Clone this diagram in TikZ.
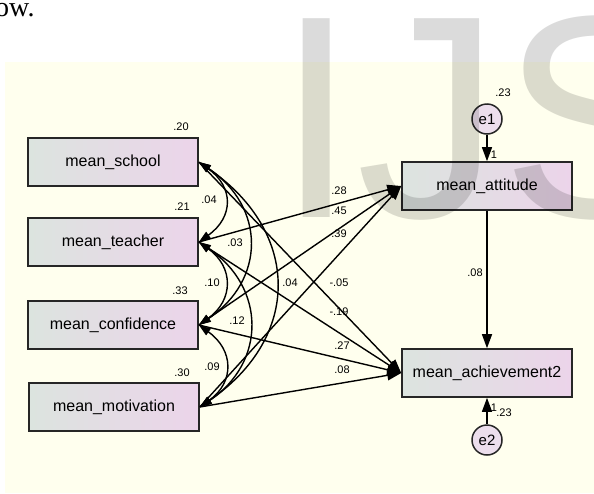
\documentclass[tikz,border=0pt]{standalone}
\usepackage{fontspec}
\setmainfont{Liberation Sans}
\newfontfamily\pageserif{Liberation Serif}
\usetikzlibrary{arrows.meta}

\definecolor{bgyellow}{RGB}{255,255,238}
\definecolor{boxleft}{RGB}{220,228,223}
\definecolor{boxright}{RGB}{236,212,234}
\definecolor{errfill}{RGB}{236,222,236}

\tikzset{
  varbox/.style={draw=black!85, line width=1.6pt, minimum width=170pt, minimum height=48pt,
    inner sep=0pt, left color=boxleft, right color=boxright, font=\fontsize{16}{16}\selectfont},
  errnode/.style={circle, draw=black!85, line width=1.5pt, minimum size=30pt, inner sep=0pt,
    fill=errfill, font=\fontsize{15}{15}\selectfont},
  coef/.style={font=\fontsize{11}{11}\selectfont, inner sep=0pt},
  patharrow/.style={line width=1.4pt, -{Triangle[length=14pt,width=10pt]}},
  covarrow/.style={line width=1.4pt, {Triangle[length=12pt,width=8pt]}-{Triangle[length=12pt,width=8pt]}},
}

\begin{document}
\begin{tikzpicture}[x=1pt,y=-1pt]
\useasboundingbox (0,0) rectangle (594,493);
\begin{scope}
\clip (0,0) rectangle (594,493);

% Page
\node[anchor=base west, inner sep=0pt, font=\pageserif\fontsize{28}{28}\selectfont] at (-5,16.5) {ow.};
\fill[bgyellow] (5,62) rectangle (594,493);

% Observed variables
\node[varbox] (school) at (113,162) {mean\_school};
\node[varbox] (teacher) at (113,242) {mean\_teacher};
\node[varbox] (confidence) at (113,325) {mean\_confidence};
\node[varbox] (motivation) at (114,407) {mean\_motivation};
\node[varbox] (attitude) at (487,186) {mean\_attitude};
\node[varbox] (achieve) at (487,373) {mean\_achievement2};

% Errors
\node[errnode] (e1) at (487,119) {e1};
\node[errnode] (e2) at (487,440) {e2};

% Covariances
\draw[covarrow] (school.east) .. controls +(35,25) and +(35,-25) .. (teacher.east);
\draw[covarrow] (teacher.east) .. controls +(35,25) and +(35,-25) .. (confidence.east);
\draw[covarrow] (confidence.east) .. controls +(35,25) and +(35,-25) .. (motivation.east);
\draw[covarrow] (school.east) .. controls +(67,45) and +(67,-45) .. (confidence.east);
\draw[covarrow] (teacher.east) .. controls +(67,45) and +(67,-45) .. (motivation.east);
\draw[covarrow] (school.east) .. controls +(102,70) and +(102,-70) .. (motivation.east);

% Paths
\draw[patharrow] (teacher.east) -- (attitude.west);
\draw[patharrow] (confidence.east) -- (attitude.west);
\draw[patharrow] (motivation.east) -- (attitude.west);
\draw[patharrow] (school.east) -- (achieve.west);
\draw[patharrow] (teacher.east) -- (achieve.west);
\draw[patharrow] (confidence.east) -- (achieve.west);
\draw[patharrow] (motivation.east) -- (achieve.west);
\draw[patharrow] (attitude.south) -- (achieve.north);
\draw[patharrow] (e1) -- (attitude.north);
\draw[patharrow] (e2) -- (achieve.south);

% Labels
\node[coef] at (181,127) {.20};
\node[coef] at (182,207) {.21};
\node[coef] at (180,291) {.33};
\node[coef] at (182,373) {.30};
\node[coef] at (209,200) {.04};
\node[coef] at (235,243) {.03};
\node[coef] at (212,283) {.10};
\node[coef] at (290,283) {.04};
\node[coef] at (237,321) {.12};
\node[coef] at (212,367) {.09};
\node[coef] at (339,191) {.28};
\node[coef] at (339,211) {.45};
\node[coef] at (339,234) {.39};
\node[coef] at (339,283) {-.05};
\node[coef] at (339,312) {-.19};
\node[coef] at (342,346) {.27};
\node[coef] at (342,370) {.08};
\node[coef] at (475,273) {.08};
\node[coef] at (503,93) {.23};
\node[coef] at (494,155) {1};
\node[coef] at (494,408) {1};
\node[coef] at (504,413) {.23};

% Watermark
\node[anchor=base west, inner sep=0pt, opacity=0.14, font=\fontsize{289}{289}\selectfont] at (276,217) {IJS};
\end{scope}
\end{tikzpicture}
\end{document}
